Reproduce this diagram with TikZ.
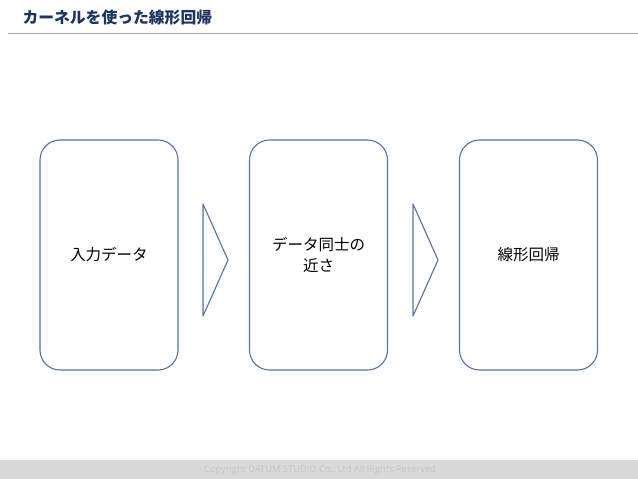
\documentclass[tikz,border=0pt]{standalone}
\usepackage{fontspec}
\setmainfont{Noto Sans CJK JP}
\newfontfamily\footfont{Open Sans}
\usetikzlibrary{positioning}
\definecolor{boxline}{RGB}{84,114,163}
\definecolor{titleblue}{RGB}{28,52,96}
\definecolor{footband}{RGB}{217,217,217}
\definecolor{foottext}{RGB}{196,196,196}
\begin{document}
\begin{tikzpicture}[x=1pt, y=-1pt,
    stage/.style={draw=boxline, line width=1.1pt, rounded corners=20pt, minimum width=138pt, minimum height=230pt, align=center, font=\fontsize{15.5}{21}\selectfont},
    chevron/.style={draw=boxline, line width=1.1pt, line join=round}]
    \useasboundingbox (0,0) rectangle (638,479);

    % Title
    \node[anchor=west, text=titleblue, font=\fontsize{15.8}{18}\selectfont\bfseries] (title) at (19,18) {カーネルを使った線形回帰};
    \draw[gray!70] (8,33) -- (638,33);

    % Stages
    \node[stage] (input) at (109,255) {入力データ};
    \node[stage] (kernel) at (318.5,255) {データ同士の\\近さ};
    \node[stage] (reg) at (528.5,255) {線形回帰};

    % Chevrons
    \draw[chevron] (203,204) -- (228,260) -- (203,316) -- cycle;
    \draw[chevron] (413,204) -- (438,260) -- (413,316) -- cycle;

    % Footer
    \fill[footband] (0,460) rectangle (638,479);
    \node[text=foottext, font=\footfont\fontsize{9.3}{11}\selectfont] (copy) at (320,470) {Copyright DATUM STUDIO Co., Ltd All Rights Reserved};
\end{tikzpicture}
\end{document}
